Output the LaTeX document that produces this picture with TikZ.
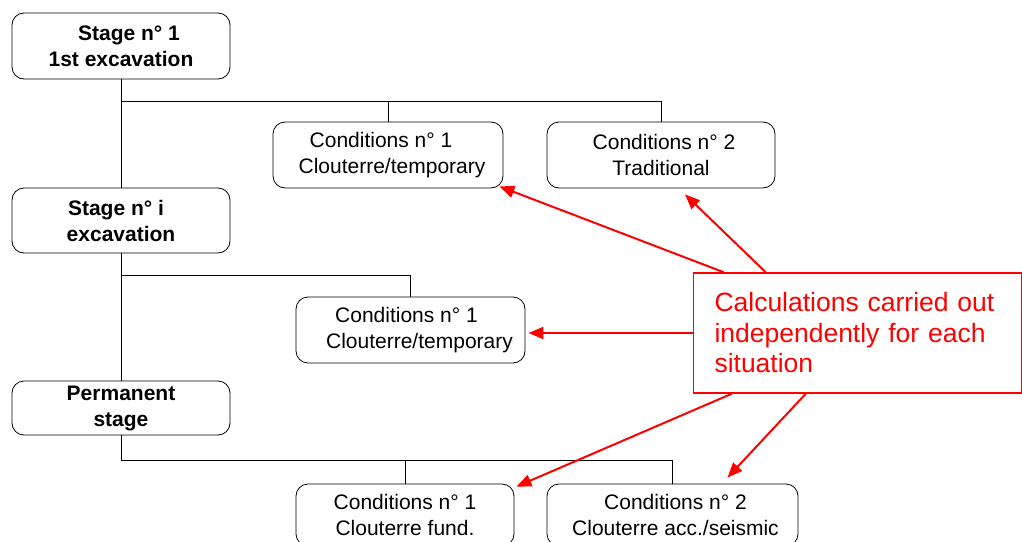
\documentclass[tikz,border=0pt]{standalone}
\usepackage{fontspec}
\setmainfont{Liberation Sans}
\usetikzlibrary{arrows.meta,calc}
\definecolor{pured}{RGB}{255,0,0}
\tikzset{
  box/.style={draw=black, line width=0.8pt, rounded corners=12pt, inner sep=0pt,
    align=center, font=\fontsize{21}{26}\selectfont},
  stagebox/.style={box, minimum width=218pt, font=\fontsize{21}{26}\selectfont\bfseries},
  condbox/.style={box, minimum height=66pt},
  link/.style={draw=black, line width=0.9pt},
  callout/.style={draw=pured, line width=1.5pt, text=pured, align=left, inner xsep=21pt,
    text width=286pt, minimum height=120pt, font=\fontsize{26.5}{30.5}\selectfont},
  redarrow/.style={draw=pured, line width=2pt, -{Triangle[length=15pt,width=12pt]}, fill=pured}
}
\begin{document}
\begin{tikzpicture}[x=1pt,y=-1pt]
\useasboundingbox (0,0) rectangle (1022,541);
\clip (0,0) rectangle (1022,541);

% stage boxes
\node[stagebox, minimum height=66pt] (s1) at (121,46) {\hspace*{16pt}Stage n° 1\\1st excavation};
\node[stagebox, minimum height=65pt] (si) at (121,220.5) {Stage n° i\hspace*{10pt}\\excavation};
\node[stagebox, minimum height=54pt] (sp) at (121,408) {Permanent\\stage};

% condition boxes
\node[condbox, minimum width=230pt] (c1) at (388,155) {Conditions n° 1\hspace*{14pt}\\\hspace*{8pt}Clouterre/temporary};
\node[condbox, minimum width=228pt] (c2) at (661,155) {\hspace*{6pt}Conditions n° 2\\Traditional};
\node[condbox, minimum width=229pt] (cm) at (410.5,330) {Conditions n° 1\hspace*{8pt}\\\hspace*{18pt}Clouterre/temporary};
\node[condbox, minimum width=218pt, minimum height=62pt] (cb1) at (405,515) {Conditions n° 1\\Clouterre fund.};
\node[condbox, minimum width=251pt, minimum height=62pt] (cb2) at (672.5,515) {\hspace*{6pt}Conditions n° 2\\\hspace*{6pt}Clouterre acc./seismic};

% tree connectors
\coordinate (j1) at (121,101);
\coordinate (j2) at (121,275);
\coordinate (j3) at (121,460);
\draw[link] (s1.south) -- (si.north);
\draw[link] (si.south) -- (sp.north);
\draw[link] (j1) -| (c2.north);
\draw[link] (c1.north) -- (c1.north |- j1);
\draw[link] (j2) -| (cm.north);
\draw[link] (sp.south) -- (j3) -| (cb2.north);
\draw[link] (cb1.north) -- (cb1.north |- j3);

% callout
\node[callout] (calc) at (857.5,333) {Calculations carried out\\independently for each\\situation};

% red arrows
\coordinate (t1) at ($(c1.south east)+(-4,-2)$);
\coordinate (t2) at ($(c2.south)+(24,6)$);
\coordinate (t3) at ($(cm.east)+(3,3)$);
\coordinate (t4) at ($(cb1.north east)+(2,3)$);
\coordinate (t5) at ($(cb2.north)+(55,-6)$);
\draw[redarrow] ($(calc.north west)+(31,0)$) -- (t1);
\draw[redarrow] ($(calc.north west)+(73,0)$) -- (t2);
\draw[redarrow] (calc.west) -- (t3);
\draw[redarrow] ($(calc.south west)+(39,0)$) -- (t4);
\draw[redarrow] ($(calc.south west)+(113,0)$) -- (t5);
\end{tikzpicture}
\end{document}
